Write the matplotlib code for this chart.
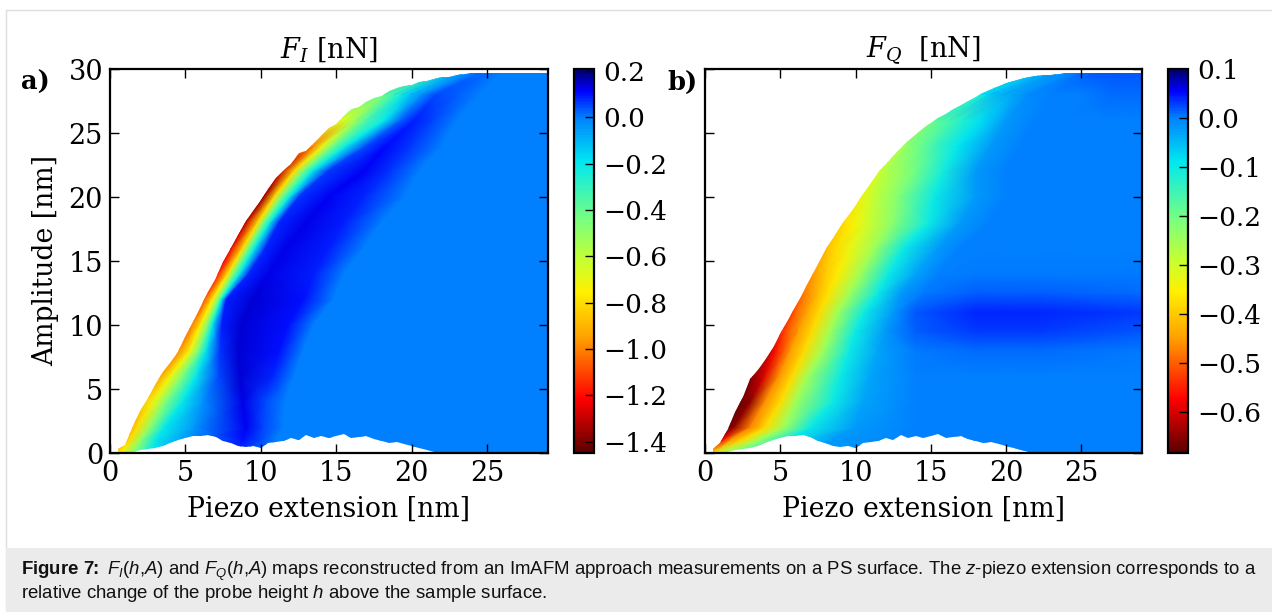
import matplotlib
matplotlib.use("Agg")
import numpy as np
import matplotlib.pyplot as plt
from matplotlib.colors import LinearSegmentedColormap
from matplotlib.patches import Rectangle
from matplotlib.path import Path

plt.rcParams["font.family"] = "DejaVu Serif"
plt.rcParams["mathtext.fontset"] = "dejavuserif"

W, H = 1272, 612

# colour scale (position from bottom, colour)
cmap_stops = [(0.0, "#5a0000"), (0.14, "#ff0000"), (0.30, "#ffa000"), (0.42, "#fff000"),
              (0.50, "#c8ff30"), (0.61, "#78ff80"), (0.76, "#00e8f0"), (0.875, "#0080ff"),
              (0.945, "#0000ff"), (1.0, "#00006a")]

# F_I map: each row is one amplitude, columns follow the features of the map
fi_amp = [0, 1, 2, 4, 6, 8, 10, 12, 14, 16, 18, 20, 22, 24, 26, 28, 29.7]
fi_x = [
    [-0.5, 0.2, 0.7, 1.6, 2.8, 4.6, 8.5, 10.0, 11.0, 29.2],
    [0.2, 0.9, 1.3, 2.0, 3.0, 5.0, 8.8, 10.0, 11.0, 29.2],
    [0.6, 1.3, 1.8, 2.6, 3.6, 5.6, 9.0, 10.2, 11.5, 29.2],
    [1.5, 2.2, 2.9, 3.7, 4.8, 6.2, 8.8, 10.3, 11.6, 29.2],
    [2.6, 3.3, 4.0, 4.8, 5.7, 7.2, 8.6, 10.8, 12.2, 29.2],
    [3.8, 4.5, 5.3, 5.9, 6.4, 7.3, 8.5, 11.2, 12.8, 29.2],
    [4.6, 5.3, 6.0, 6.5, 6.8, 7.4, 8.7, 11.8, 13.5, 29.2],
    [5.5, 6.2, 6.8, 7.2, 7.4, 7.7, 9.5, 12.8, 14.8, 29.2],
    [6.4, 7.1, 7.8, 8.2, 8.6, 9.2, 10.5, 13.5, 15.5, 29.2],
    [7.3, 8.0, 8.8, 9.2, 9.6, 10.3, 11.6, 14.5, 16.8, 29.2],
    [8.3, 9.0, 9.8, 10.2, 10.6, 11.2, 13.0, 15.5, 18.0, 29.2],
    [9.5, 10.2, 10.9, 11.4, 11.9, 12.5, 14.5, 16.8, 19.5, 29.2],
    [10.6, 11.3, 12.2, 12.8, 13.4, 14.4, 16.8, 18.5, 20.5, 29.2],
    [12.8, 13.5, 14.1, 14.8, 15.7, 17.0, 18.3, 20.0, 22.0, 29.2],
    [15.0, 15.7, 16.3, 17.0, 18.2, 19.3, 20.2, 21.5, 23.0, 29.2],
    [17.5, 18.2, 18.8, 19.3, 19.9, 20.7, 21.6, 23.0, 24.5, 29.2],
    [21.0, 22.0, 22.5, 23.0, 23.5, 24.0, 24.5, 25.0, 26.0, 29.2],
]
fi_val = [
    [-0.9, -0.9, -0.75, -0.45, -0.2, 0.0, 0.06, 0.02, 0.0, 0.0],
    [-0.95, -0.95, -0.8, -0.5, -0.2, -0.05, 0.10, 0.05, 0.0, 0.0],
    [-0.95, -0.95, -0.8, -0.5, -0.2, -0.04, 0.12, 0.05, 0.0, 0.0],
    [-0.85, -0.85, -0.7, -0.45, -0.2, -0.03, 0.13, 0.05, 0.0, 0.0],
    [-0.95, -0.95, -0.72, -0.45, -0.2, 0.05, 0.14, 0.08, 0.0, 0.0],
    [-1.0, -1.0, -0.72, -0.42, -0.18, 0.07, 0.14, 0.10, 0.0, 0.0],
    [-1.05, -1.05, -0.75, -0.42, -0.2, 0.09, 0.14, 0.10, 0.0, 0.0],
    [-1.1, -1.1, -0.75, -0.42, -0.2, 0.09, 0.14, 0.10, 0.0, 0.0],
    [-1.2, -1.2, -0.78, -0.42, -0.2, 0.08, 0.13, 0.09, 0.0, 0.0],
    [-1.25, -1.25, -0.8, -0.42, -0.2, 0.08, 0.13, 0.09, 0.0, 0.0],
    [-1.3, -1.3, -0.8, -0.42, -0.2, 0.08, 0.13, 0.09, 0.0, 0.0],
    [-1.35, -1.35, -0.8, -0.42, -0.2, 0.07, 0.12, 0.08, 0.0, 0.0],
    [-1.3, -1.3, -0.8, -0.42, -0.2, 0.06, 0.12, 0.07, 0.0, 0.0],
    [-1.0, -1.0, -0.7, -0.42, -0.2, 0.05, 0.11, 0.06, 0.0, 0.0],
    [-0.65, -0.65, -0.5, -0.35, -0.2, 0.03, 0.09, 0.05, 0.0, 0.0],
    [-0.4, -0.4, -0.32, -0.22, -0.12, -0.02, 0.05, 0.03, 0.0, 0.0],
    [-0.15, -0.15, -0.1, -0.05, -0.02, 0.0, 0.02, 0.02, 0.0, 0.0],
]
fi_edge_x = [0.5, 1, 1.5, 2, 2.5, 3, 3.5, 4, 4.5, 5, 5.5, 6, 6.5, 7, 7.5, 8, 8.5, 9, 9.5, 10,
             10.5, 11, 11.5, 12, 12.5, 13, 13.5, 14, 14.5, 15, 15.5, 16, 16.5, 17, 17.5, 18,
             18.5, 19, 19.5, 20, 20.5, 21, 21.5, 22, 22.5, 23, 23.5, 24, 29.1]
fi_edge_a = [0.3, 0.6, 2.1, 3.3, 4.3, 5.3, 6.3, 7.0, 7.9, 9.1, 10.2, 11.5, 12.6, 13.7, 14.9,
             16.0, 17.0, 18.1, 18.9, 19.8, 20.6, 21.5, 22.0, 22.6, 23.4, 23.6, 24.2, 24.8,
             25.4, 25.7, 26.3, 26.9, 27.0, 27.4, 27.7, 27.9, 28.3, 28.5, 28.7, 28.75, 29.0,
             29.1, 29.2, 29.35, 29.4, 29.5, 29.6, 29.7, 29.7]

# F_Q map, same layout
fq_amp = [0, 1, 2, 4, 6, 8, 9.5, 11, 12.5, 14, 16, 18, 20, 22, 24, 26, 28, 29.7]
fq_x = [
    [0.2, 0.5, 0.8, 1.2, 2.0, 4.0, 6.0, 14.0, 18.0, 22.0, 29.2],
    [0.9, 1.1, 1.7, 2.5, 3.5, 5.5, 8.5, 14.0, 18.0, 22.0, 29.2],
    [1.5, 1.9, 3.0, 4.0, 5.2, 7.0, 10.0, 14.0, 18.0, 22.0, 29.2],
    [2.3, 3.0, 4.0, 5.0, 6.0, 8.5, 10.5, 14.0, 18.0, 22.0, 29.2],
    [3.0, 3.9, 4.9, 5.8, 6.8, 9.0, 11.0, 14.0, 18.0, 22.0, 29.2],
    [4.4, 4.8, 5.7, 6.6, 7.8, 9.6, 11.5, 14.0, 18.0, 22.0, 29.2],
    [5.0, 5.4, 6.2, 7.1, 8.3, 10.0, 12.0, 14.0, 18.0, 22.0, 29.2],
    [5.8, 6.1, 6.8, 7.6, 8.8, 10.6, 12.5, 14.0, 18.0, 22.0, 29.2],
    [6.5, 6.9, 7.5, 8.2, 9.6, 11.5, 13.0, 14.5, 18.0, 22.0, 29.2],
    [7.2, 7.5, 8.0, 8.8, 10.3, 12.2, 14.0, 15.5, 18.0, 22.0, 29.2],
    [8.1, 8.3, 8.7, 9.7, 11.2, 13.2, 15.5, 17.0, 19.0, 23.0, 29.2],
    [9.2, 9.4, 9.9, 10.8, 12.4, 14.9, 17.0, 19.0, 21.0, 24.0, 29.2],
    [10.4, 10.6, 11.0, 11.6, 12.8, 15.2, 18.0, 20.0, 22.0, 25.0, 29.2],
    [11.6, 11.8, 12.2, 12.9, 14.0, 15.8, 18.0, 20.0, 22.0, 25.0, 29.2],
    [13.1, 13.3, 13.6, 14.2, 15.3, 16.8, 19.0, 21.0, 23.0, 26.0, 29.2],
    [15.2, 15.4, 15.7, 16.2, 17.2, 18.4, 20.0, 22.0, 24.0, 26.5, 29.2],
    [18.3, 18.5, 18.7, 19.0, 19.8, 20.5, 21.5, 23.0, 25.0, 27.0, 29.2],
    [21.5, 22.0, 22.5, 23.0, 23.5, 24.0, 24.5, 25.0, 26.0, 27.5, 29.2],
]
fq_val = [
    [-0.42, -0.35, -0.3, -0.25, -0.2, -0.1, -0.03, 0.0, 0.0, 0.0, 0.0],
    [-0.6, -0.58, -0.45, -0.38, -0.25, -0.1, -0.02, 0.0, 0.0, 0.0, 0.0],
    [-0.67, -0.65, -0.47, -0.38, -0.25, -0.1, -0.02, 0.0, 0.0, 0.0, 0.0],
    [-0.67, -0.65, -0.46, -0.38, -0.25, -0.1, -0.03, 0.0, 0.0, 0.0, 0.0],
    [-0.66, -0.6, -0.46, -0.38, -0.25, -0.1, -0.03, 0.0, 0.0, 0.0, 0.0],
    [-0.6, -0.55, -0.45, -0.38, -0.25, -0.1, -0.03, 0.005, 0.01, 0.01, 0.005],
    [-0.55, -0.51, -0.45, -0.38, -0.25, -0.1, -0.02, 0.015, 0.03, 0.03, 0.02],
    [-0.52, -0.49, -0.44, -0.38, -0.25, -0.1, -0.02, 0.02, 0.04, 0.04, 0.03],
    [-0.48, -0.46, -0.42, -0.37, -0.25, -0.1, -0.02, 0.005, 0.015, 0.015, 0.01],
    [-0.45, -0.43, -0.4, -0.36, -0.25, -0.1, -0.03, 0.0, 0.005, 0.005, 0.005],
    [-0.42, -0.4, -0.38, -0.33, -0.25, -0.1, -0.02, 0.0, 0.0, 0.0, 0.0],
    [-0.38, -0.37, -0.35, -0.3, -0.23, -0.1, -0.02, 0.0, 0.0, 0.0, 0.0],
    [-0.33, -0.32, -0.3, -0.27, -0.22, -0.1, -0.02, 0.0, 0.0, 0.0, 0.0],
    [-0.3, -0.28, -0.26, -0.24, -0.2, -0.11, -0.02, 0.0, 0.0, 0.0, 0.0],
    [-0.25, -0.24, -0.22, -0.2, -0.15, -0.09, -0.02, 0.0, 0.0, 0.0, 0.0],
    [-0.19, -0.18, -0.17, -0.16, -0.12, -0.08, -0.02, 0.0, 0.0, 0.0, 0.0],
    [-0.1, -0.09, -0.08, -0.06, -0.04, -0.03, -0.01, 0.0, 0.0, 0.01, 0.01],
    [-0.05, -0.04, -0.03, -0.02, -0.01, -0.01, 0.0, 0.01, 0.02, 0.02, 0.02],
]
fq_edge_x = fi_edge_x
fq_edge_a = [0.3, 0.8, 1.9, 3.2, 4.4, 5.8, 6.5, 7.3, 8.2, 9.3, 10.4, 11.4, 12.5, 13.8, 14.9,
             15.9, 16.8, 17.7, 18.5, 19.4, 20.4, 21.3, 22.0, 22.6, 23.2, 23.8, 24.4, 24.9,
             25.4, 25.8, 26.2, 26.5, 26.9, 27.2, 27.5, 27.85, 28.2, 28.5, 28.7, 28.9, 29.1,
             29.25, 29.35, 29.45, 29.5, 29.55, 29.6, 29.7, 29.7]

# lower limit of the measured region (white humps), same for both maps
low_x = [0.5, 1, 1.5, 2, 2.5, 3, 3.5, 4, 4.5, 5, 5.5, 6, 6.5, 7, 7.5, 8, 8.5, 9, 9.5, 10, 10.5,
         11, 11.5, 12, 12.5, 13, 13.5, 14, 14.5, 15, 15.5, 16, 16.5, 17, 17.5, 18, 18.5, 19,
         19.5, 20, 20.5, 21, 21.5, 22, 23, 24, 24.5, 25, 29.1]
low_a = [0.05, 0.1, 0.1, 0.2, 0.3, 0.4, 0.55, 0.8, 1.05, 1.2, 1.35, 1.3, 1.4, 1.25, 0.9, 0.75,
         0.55, 0.45, 0.55, 0.4, 0.75, 0.85, 0.95, 1.15, 1.05, 1.4, 1.2, 1.3, 1.2, 1.3, 1.45,
         1.2, 1.25, 1.3, 1.1, 0.95, 0.75, 0.85, 0.7, 0.55, 0.4, 0.25, 0.1, 0.05, 0.1, 0.1, 0.1,
         0.03, 0.03]

x_ticks = [0, 5, 10, 15, 20, 25]
y_ticks = [0, 5, 10, 15, 20, 25, 30]
fi_cticks = [0.2, 0.0, -0.2, -0.4, -0.6, -0.8, -1.0, -1.2, -1.4]
fq_cticks = [0.1, 0.0, -0.1, -0.2, -0.3, -0.4, -0.5, -0.6]


def box(l, t, r, b):
    return [l / W, 1 - b / H, (r - l) / W, (b - t) / H]


def panel(fig, rect, crect, amp, xs, vals, edge_x, edge_a, vmin, vmax, cticks):
    ax = fig.add_axes(box(*rect))
    xs = np.array(xs)
    yy = np.repeat(np.array(amp)[:, None], xs.shape[1], axis=1)
    mesh = ax.pcolormesh(xs, yy, np.array(vals), shading="gouraud", cmap=cmap,
                         vmin=vmin, vmax=vmax)

    # only the measured region is shown
    verts = list(zip(edge_x, edge_a)) + list(zip(low_x[::-1], low_a[::-1]))
    mesh.set_clip_path(Path(verts + [verts[0]]), ax.transData)

    ax.set_xlim(0, 29)
    ax.set_ylim(0, 30)
    ax.set_xticks(x_ticks)
    ax.set_yticks(y_ticks)
    ax.tick_params(direction="in", top=True, right=True, length=6.6, width=1,
                   labelsize=19.5, pad=5)
    for s in ax.spines.values():
        s.set_linewidth(1.6)
    ax.set_xlabel("Piezo extension [nm]", fontsize=19.2, labelpad=6.5)

    cax = fig.add_axes(box(*crect))
    cb = fig.colorbar(mesh, cax=cax, ticks=cticks)
    cb.outline.set_linewidth(1.6)
    cb.ax.tick_params(direction="in", length=6.6, width=1, labelsize=19, pad=7)
    cb.ax.set_yticklabels([f"{t:.1f}".replace("-", "\u2212") for t in cticks])
    return ax


cmap = LinearSegmentedColormap.from_list("map_jet", cmap_stops, N=256)

fig = plt.figure(figsize=(W / 100, H / 100), dpi=100)

# page frame and caption strip, behind the axes
fig.add_artist(Rectangle((6 / W, 0), 1.0, 1 - 10 / H, transform=fig.transFigure,
                         fc="white", ec="#dddddd", lw=1, zorder=-2))
fig.add_artist(Rectangle((6 / W, 0), 1.0, 64 / H, transform=fig.transFigure,
                         fc="#ebebeb", ec="none", zorder=-1))

ax1 = panel(fig, (110, 69, 547.5, 453), (574, 69, 594, 453), fi_amp, fi_x, fi_val,
            fi_edge_x, fi_edge_a, -1.449, 0.208, fi_cticks)
ax2 = panel(fig, (705, 69, 1141.5, 453), (1168, 69, 1188, 453), fq_amp, fq_x, fq_val,
            fq_edge_x, fq_edge_a, -0.684, 0.1, fq_cticks)
ax2.set_yticklabels([])
ax1.set_ylabel("Amplitude [nm]", fontsize=19.2, labelpad=7)
ax1.set_title(r"$F_I$ [nN]", fontsize=19.5, pad=8)
ax2.set_title(r"$F_Q$  [nN]", fontsize=19.5, pad=8)

fig.text(21 / W, 1 - 82 / H, "a)", fontsize=18.5, fontweight="bold", va="center")
fig.text(667 / W, 1 - 82 / H, "b)", fontsize=18.5, fontweight="bold", va="center")

# caption
plt.rcParams["mathtext.rm"] = "Liberation Sans"
plt.rcParams["mathtext.it"] = "Liberation Sans:italic"
plt.rcParams["mathtext.bf"] = "Liberation Sans:bold"
cap1 = (r"$\mathbf{Figure\ 7}\hspace{-0.25}\mathbf{:}$ $\mathit{F}_\mathit{I}(\mathit{h}{,}\mathit{A})$ and "
        r"$\mathit{F}_\mathit{Q}(\mathit{h}{,}\mathit{A})$ maps reconstructed from an ImAFM "
        r"approach measurements on a PS surface. The $\mathit{z}$-piezo extension corresponds to a")
cap2 = r"relative change of the probe height $\mathit{h}$ above the sample surface."
for txt, ypos in ((cap1, 575), (cap2, 598)):
    fig.text(21 / W, 1 - ypos / H, txt, fontsize=13.4, family="Liberation Sans",
             math_fontfamily="custom", color="#111111", va="baseline")

fig.savefig("out.png", dpi=100)
